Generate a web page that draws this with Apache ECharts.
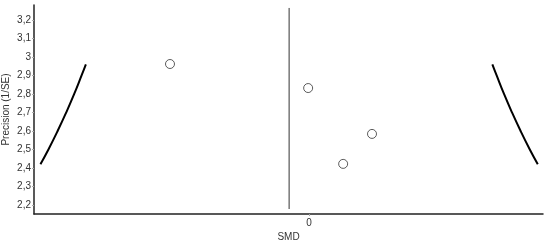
<!DOCTYPE html>
<html>
<head>
<meta charset="utf-8">
<script src="https://cdn.jsdelivr.net/npm/echarts@6/dist/echarts.min.js"></script>
<style>
  html, body { margin: 0; padding: 0; background: #fff; }
  #chart { width: 550px; height: 243px; }
</style>
</head>
<body>
<div id="chart"></div>
<script>
// studies: SMD and precision (1/SE)
const studySmd = [-0.453, -0.003, 0.111, 0.205];
const studyPrecision = [2.962, 2.832, 2.422, 2.584];

// pooled estimate line
const pooledSmd = -0.065;
const pooledRange = [2.178, 3.265];

// funnel limits
const funnelPrecision = [2.42, 2.5, 2.6, 2.7, 2.8, 2.9, 2.96];
const funnelLeft = [-0.875, -0.849, -0.819, -0.791, -0.765, -0.741, -0.727];
const funnelRight = [0.745, 0.719, 0.689, 0.661, 0.635, 0.611, 0.597];

// tick labels
const yTicks = [2.2, 2.3, 2.4, 2.5, 2.6, 2.7, 2.8, 2.9, 3.0, 3.1, 3.2];
const xTicks = [0];

const chart = echarts.init(document.getElementById("chart"));

const fmt = v => String(Math.round(v * 10) / 10).replace(".", ",");

chart.setOption({
  animation: false,
  textStyle: { fontFamily: "Liberation Sans, Arial, sans-serif" },
  grid: { left: 34, right: 7, top: 5, bottom: 29, outerBoundsMode: "none", containLabel: false },
  xAxis: {
    type: "value",
    min: -0.896,
    max: 0.762,
    name: "SMD",
    nameLocation: "middle",
    nameGap: 18,
    nameMoveOverlap: false,
    nameTextStyle: { fontSize: 10, color: "#333" },
    splitLine: { show: false },
    axisLine: { onZero: false, lineStyle: { color: "#222", width: 1.5 } },
    axisTick: { customValues: xTicks, length: 2, lineStyle: { color: "#aaa" } },
    axisLabel: { customValues: xTicks, fontSize: 10, color: "#333", margin: 4, formatter: fmt }
  },
  yAxis: {
    type: "value",
    min: 2.151,
    max: 3.281,
    name: "Precision (1/SE)",
    nameLocation: "middle",
    nameGap: 23,
    nameMoveOverlap: false,
    nameTextStyle: { fontSize: 10, color: "#333" },
    splitLine: { show: false },
    axisLine: { onZero: false, lineStyle: { color: "#222", width: 1.5 } },
    axisTick: { customValues: yTicks, length: 2, lineStyle: { color: "#aaa" } },
    axisLabel: { customValues: yTicks, fontSize: 10, color: "#333", margin: 3, formatter: fmt }
  },
  series: [
    {
      type: "line",
      data: [[pooledSmd, pooledRange[0]], [pooledSmd, pooledRange[1]]],
      symbol: "none",
      lineStyle: { color: "#333", width: 1 },
      silent: true
    },
    {
      type: "line",
      data: funnelPrecision.map((p, i) => [funnelLeft[i], p]),
      symbol: "none",
      smooth: true,
      lineStyle: { color: "#000", width: 2 },
      silent: true
    },
    {
      type: "line",
      data: funnelPrecision.map((p, i) => [funnelRight[i], p]),
      symbol: "none",
      smooth: true,
      lineStyle: { color: "#000", width: 2 },
      silent: true
    },
    {
      type: "scatter",
      data: studySmd.map((x, i) => [x, studyPrecision[i]]),
      symbol: "circle",
      symbolSize: 9,
      itemStyle: { color: "#fff", borderColor: "#333", borderWidth: 1 }
    }
  ]
});
</script>
</body>
</html>
